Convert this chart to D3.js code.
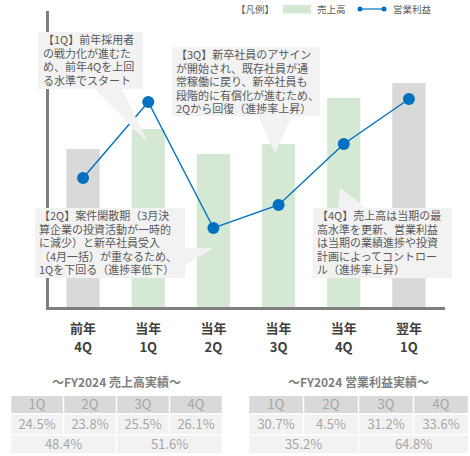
<!DOCTYPE html>
<html><head><meta charset="utf-8">
<script src="https://cdn.jsdelivr.net/npm/d3@7"></script>
<style>
html,body{margin:0;padding:0;background:#fff;}
svg{display:block;font-family:"Noto Sans CJK JP","Noto Sans",sans-serif;}
.note{font-family:"Noto Sans CJK JP","Noto Sans",sans-serif;font-size:11px;line-height:13.5px;color:#595959;white-space:pre;margin:0;padding:0;}
</style></head>
<body><svg id="c" width="470" height="456"></svg>
<script>
const categories = [["前年","4Q"],["当年","1Q"],["当年","2Q"],["当年","3Q"],["当年","4Q"],["翌年","1Q"]];
const sales  = [159, 179, 154, 164, 210, 225];
const profit = [130, 206, 80, 103, 164, 209];
const barColors = ["#d9d9d9","#d5e8d4","#d5e8d4","#d5e8d4","#d5e8d4","#d9d9d9"];
const salesHeader = ["1Q","2Q","3Q","4Q"];
const salesQ = ["24.5%","23.8%","25.5%","26.1%"];
const salesH = ["48.4%","51.6%"];
const profitHeader = ["1Q","2Q","3Q","4Q"];
const profitQ = ["30.7%","4.5%","31.2%","33.6%"];
const profitH = ["35.2%","64.8%"];

const notes = [
  {lines:["【1Q】前年採用者","の戦力化が進むた","め、前年4Qを上回","る水準でスタート"],
   box:[38,32,105,57], ptr:[[95,89],[122,89],[148,143]]},
  {lines:["【3Q】新卒社員のアサイン","が開始され、既存社員が通","常稼働に戻り、新卒社員も","段階的に有償化が進むため、","2Qから回復（進捗率上昇）"],
   box:[172,47,148,69], ptr:[[258,116],[292,116],[275,153]]},
  {lines:["【2Q】案件閑散期（3月決","算企業の投資活動が一時的","に減少）と新卒社員受入","（4月一括）が重なるため、","1Qを下回る（進捗率低下）"],
   box:[35,208,150,70], ptr:[[184,248],[213,248],[184,266]]},
  {lines:["【4Q】売上高は当期の最","高水準を更新、営業利益","は当期の業績進捗や投資","計画によってコントロー","ル（進捗率上昇）"],
   box:[313,208,139,70], ptr:[[338,209],[340,188],[368,209]]}
];

const svg = d3.select("#c");
const x = d3.scaleBand().domain(d3.range(categories.length)).range([50.5,441.5]).paddingInner(0.49).paddingOuter(0.245);
const y = d3.scaleLinear().domain([0,300]).range([308,8]);

// bars
svg.append("g").selectAll("rect").data(sales).join("rect")
  .attr("x",(d,i)=>x(i)).attr("width",x.bandwidth())
  .attr("y",d=>y(d)).attr("height",d=>y(0)-y(d))
  .attr("fill",(d,i)=>barColors[i]);

// axes
svg.append("line").attr("x1",47.5).attr("x2",47.5).attr("y1",11).attr("y2",309).attr("stroke","#7f7f7f").attr("stroke-width",3);
svg.append("line").attr("x1",46).attr("x2",445).attr("y1",308.5).attr("y2",308.5).attr("stroke","#7f7f7f").attr("stroke-width",3);

// x labels
const xl = svg.append("g").attr("font-weight","bold").attr("font-size",13).attr("fill","#404040").attr("text-anchor","middle");
categories.forEach((c,i)=>{
  const cx = x(i)+x.bandwidth()/2;
  xl.append("text").attr("x",cx).attr("y",333).text(c[0]);
  xl.append("text").attr("x",cx).attr("y",352).text(c[1]);
});

// line
const line = d3.line().x((d,i)=>x(i)+x.bandwidth()/2).y(d=>y(d));
svg.append("path").datum(profit).attr("d",line).attr("fill","none").attr("stroke","#0070c0").attr("stroke-width",1.4);

// callouts
const ng = svg.append("g");
notes.forEach(n=>{
  ng.append("rect").attr("x",n.box[0]).attr("y",n.box[1]).attr("width",n.box[2]).attr("height",n.box[3]).attr("fill","#f2f2f2");
  ng.append("path").attr("d","M"+n.ptr.map(p=>p.join(",")).join("L")+"Z").attr("fill","#f2f2f2");
});

// dots above callouts
svg.append("g").selectAll("circle").data(profit).join("circle")
  .attr("cx",(d,i)=>x(i)+x.bandwidth()/2).attr("cy",d=>y(d)).attr("r",6).attr("fill","#0070c0");

notes.forEach(n=>{
  ng.append("foreignObject")
    .attr("x",n.box[0]+(n.lines.length===4?5:4)).attr("y",n.box[1]+1.4)
    .attr("width",n.box[2]+20).attr("height",n.box[3])
    .append("xhtml:div").attr("class","note").text(n.lines.join("\n"));
});

// legend
const lg = svg.append("g").attr("font-size",9.5).attr("fill","#595959");
lg.append("text").attr("x",236).attr("y",13).text("【凡例】");
lg.append("rect").attr("x",283).attr("y",5).attr("width",28).attr("height",8.5).attr("fill","#d5e8d4");
lg.append("text").attr("x",317).attr("y",13).text("売上高");
lg.append("line").attr("x1",360).attr("x2",384).attr("y1",9).attr("y2",9).attr("stroke","#0070c0").attr("stroke-width",1.2);
lg.append("circle").attr("cx",360).attr("cy",9).attr("r",2.5).attr("fill","#0070c0");
lg.append("circle").attr("cx",384).attr("cy",9).attr("r",2.5).attr("fill","#0070c0");
lg.append("text").attr("x",393).attr("y",13).text("営業利益");

// tables
function table(x0, w, title, header, q, h){
  const g = svg.append("g");
  const cw = w/4;
  g.append("text").attr("x",x0+w/2).attr("y",387).attr("text-anchor","middle").attr("font-size",12).attr("font-weight","bold").attr("fill","#7f7f7f").text(title);
  const rows = [{y:396,h:17,fill:"#d9d9d9",vals:header,span:1},{y:414.5,h:19.5,fill:"#f2f2f2",vals:q,span:1},{y:435.5,h:17.5,fill:"#f2f2f2",vals:h,span:2}];
  rows.forEach(r=>{
    r.vals.forEach((v,i)=>{
      const cx = x0+i*cw*r.span;
      g.append("rect").attr("x",cx+0.75).attr("y",r.y).attr("width",cw*r.span-1.5).attr("height",r.h).attr("fill",r.fill);
      g.append("text").attr("x",cx+cw*r.span/2).attr("y",r.y+r.h/2+4.6).attr("text-anchor","middle").attr("font-size",13).attr("fill","#a6a6a6").text(v);
    });
  });
}
table(10.5, 212, "～FY2024 売上高実績～", salesHeader, salesQ, salesH);
table(248.5, 220, "～FY2024 営業利益実績～", profitHeader, profitQ, profitH);
</script></body></html>
